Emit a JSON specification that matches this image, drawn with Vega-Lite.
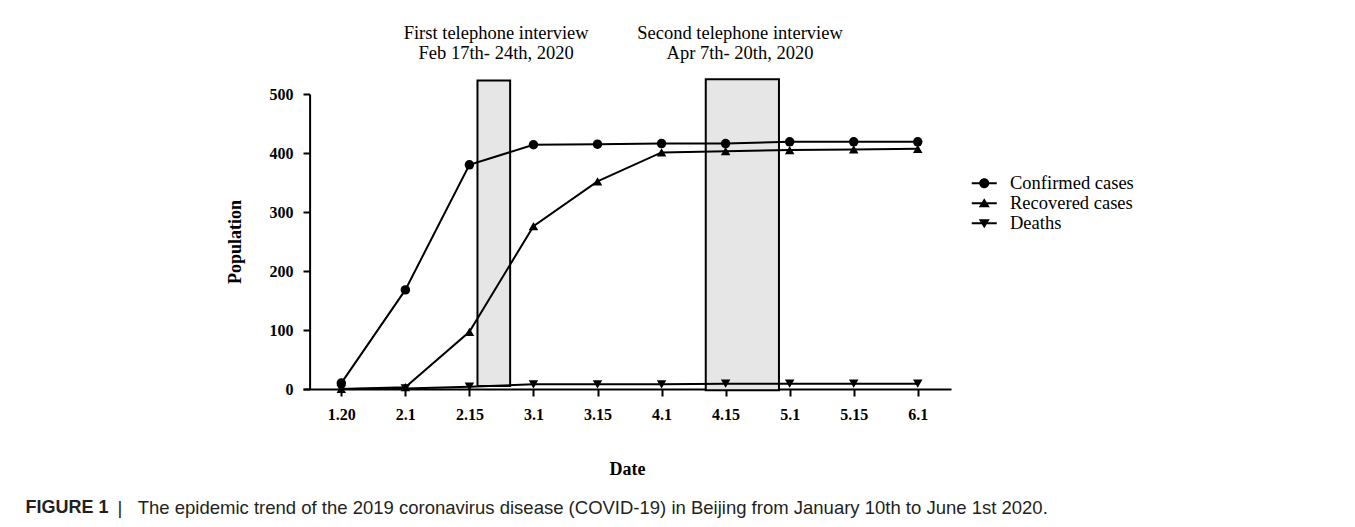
{
  "$schema": "https://vega.github.io/schema/vega-lite/v6.json",
  "autosize": {"type": "none"},
  "width": 648,
  "height": 295,
  "padding": {"left": 303, "top": 94, "right": 404, "bottom": 138},
  "background": "white",
  "config": {
    "view": {"stroke": null},
    "axis": {
      "domainColor": "black", "domainWidth": 2,
      "tickColor": "black", "tickWidth": 2, "tickSize": 7,
      "labelFont": "Liberation Serif", "labelFontWeight": "bold", "labelFontSize": 16, "labelColor": "black",
      "titleFont": "Liberation Serif", "titleFontWeight": "bold", "titleFontSize": 18, "titleColor": "black",
      "grid": false, "labelFlush": false, "labelOverlap": false, "labelBound": false
    },
    "axisY": {
      "offset": -6.6, "tickSize": 6.6, "labelPadding": 10,
      "titleX": -74, "titleY": 147.5, "titleAngle": -90, "titleAlign": "center", "titleBaseline": "middle"
    }
  },
  "datasets": {
    "periods": [
      {"period": "First telephone interview", "start": 2.126, "end": 2.636, "low": 5, "high": 523, "mid": 2.418, "label": ["First telephone interview", "Feb 17th- 24th, 2020"]},
      {"period": "Second telephone interview", "start": 5.69, "end": 6.833, "low": -2, "high": 525, "mid": 6.225, "label": ["Second telephone interview", "Apr 7th- 20th, 2020"]}
    ],
    "series": [
      {"idx": 0, "date": "1.20", "series": "Confirmed cases", "value": 10},
      {"idx": 1, "date": "2.1", "series": "Confirmed cases", "value": 168},
      {"idx": 2, "date": "2.15", "series": "Confirmed cases", "value": 380},
      {"idx": 3, "date": "3.1", "series": "Confirmed cases", "value": 414},
      {"idx": 4, "date": "3.15", "series": "Confirmed cases", "value": 415},
      {"idx": 5, "date": "4.1", "series": "Confirmed cases", "value": 416},
      {"idx": 6, "date": "4.15", "series": "Confirmed cases", "value": 416},
      {"idx": 7, "date": "5.1", "series": "Confirmed cases", "value": 419},
      {"idx": 8, "date": "5.15", "series": "Confirmed cases", "value": 419},
      {"idx": 9, "date": "6.1", "series": "Confirmed cases", "value": 419},
      {"idx": 0, "date": "1.20", "series": "Recovered cases", "value": 0},
      {"idx": 1, "date": "2.1", "series": "Recovered cases", "value": 3},
      {"idx": 2, "date": "2.15", "series": "Recovered cases", "value": 97},
      {"idx": 3, "date": "3.1", "series": "Recovered cases", "value": 276},
      {"idx": 4, "date": "3.15", "series": "Recovered cases", "value": 352},
      {"idx": 5, "date": "4.1", "series": "Recovered cases", "value": 401},
      {"idx": 6, "date": "4.15", "series": "Recovered cases", "value": 403},
      {"idx": 7, "date": "5.1", "series": "Recovered cases", "value": 405},
      {"idx": 8, "date": "5.15", "series": "Recovered cases", "value": 406},
      {"idx": 9, "date": "6.1", "series": "Recovered cases", "value": 407},
      {"idx": 0, "date": "1.20", "series": "Deaths", "value": 0},
      {"idx": 1, "date": "2.1", "series": "Deaths", "value": 1},
      {"idx": 2, "date": "2.15", "series": "Deaths", "value": 4},
      {"idx": 3, "date": "3.1", "series": "Deaths", "value": 8},
      {"idx": 4, "date": "3.15", "series": "Deaths", "value": 8},
      {"idx": 5, "date": "4.1", "series": "Deaths", "value": 8},
      {"idx": 6, "date": "4.15", "series": "Deaths", "value": 9},
      {"idx": 7, "date": "5.1", "series": "Deaths", "value": 9},
      {"idx": 8, "date": "5.15", "series": "Deaths", "value": 9},
      {"idx": 9, "date": "6.1", "series": "Deaths", "value": 9}
    ]
  },
  "layer": [
    {
      "data": {"name": "periods"},
      "mark": {"type": "rect", "fill": "#e6e6e6", "stroke": "black", "strokeWidth": 2},
      "encoding": {
        "x": {"field": "start", "type": "quantitative",
          "scale": {"domain": [-0.598, 9.519], "nice": false, "zero": false},
          "axis": {
            "orient": "bottom",
            "title": "Date", "values": [0, 1, 2, 3, 4, 5, 6, 7, 8, 9],
            "labelExpr": "['1.20','2.1','2.15','3.1','3.15','4.1','4.15','5.1','5.15','6.1'][datum.value]",
            "labelPadding": 10, "tickSize": 7,
            "titleX": 324, "titleY": 80, "titleAlign": "center", "titleBaseline": "middle"
          }
        },
        "x2": {"field": "end"},
        "y": {"field": "low", "type": "quantitative", "title": "Population",
          "scale": {"domain": [0, 500], "nice": false, "zero": false},
          "axis": {"values": [0, 100, 200, 300, 400, 500]}},
        "y2": {"field": "high"}
      }
    },
    {
      "data": {"name": "series"},
      "mark": {"type": "line", "color": "black", "strokeWidth": 2},
      "encoding": {
        "x": {"field": "idx", "type": "quantitative",
          "scale": {"domain": [-0.598, 9.519], "nice": false, "zero": false},
          "axis": {
            "orient": "bottom",
            "title": "FIGURE 1", "domain": false, "ticks": false, "labels": false, "grid": false,
            "titleFont": "Liberation Sans", "titleFontWeight": "bold", "titleFontSize": 18, "titleColor": "#231f20",
            "titleX": -278, "titleY": 118, "titleAlign": "left", "titleBaseline": "middle"
          }
        },
        "y": {"field": "value", "type": "quantitative", "title": "Population", "scale": {"domain": [0, 500], "nice": false, "zero": false},
          "axis": {"values": [0, 100, 200, 300, 400, 500]}},
        "detail": {"field": "series"}
      }
    },
    {
      "data": {"name": "series"},
      "mark": {"type": "point", "filled": true, "color": "black", "size": 90, "opacity": 1},
      "encoding": {
        "x": {"field": "idx", "type": "quantitative",
          "scale": {"domain": [-0.598, 9.519], "nice": false, "zero": false},
          "axis": {
            "orient": "bottom",
            "title": "|\u00a0\u00a0\u00a0The epidemic trend of the 2019 coronavirus disease (COVID-19) in Beijing from January 10th to June 1st 2020.",
            "domain": false, "ticks": false, "labels": false, "grid": false,
            "titleFont": "Liberation Sans", "titleFontWeight": "normal", "titleFontSize": 18.5, "titleColor": "#231f20",
            "titleX": -186, "titleY": 118, "titleAlign": "left", "titleBaseline": "middle"
          }
        },
        "y": {"field": "value", "type": "quantitative", "title": "Population", "scale": {"domain": [0, 500], "nice": false, "zero": false},
          "axis": {"values": [0, 100, 200, 300, 400, 500]}},
        "shape": {"field": "series", "type": "nominal",
          "scale": {"domain": ["Confirmed cases", "Recovered cases", "Deaths"], "range": ["circle", "triangle-up", "triangle-down"]},
          "legend": null
        }
      }
    },
    {
      "data": {"name": "series"},
      "mark": {"type": "point", "filled": true, "color": "black", "size": 100, "opacity": 0},
      "encoding": {
        "x": {"field": "idx", "type": "quantitative",
          "scale": {"domain": [-0.598, 9.519], "nice": false, "zero": false}, "axis": null},
        "y": {"field": "value", "type": "quantitative", "title": "Population", "scale": {"domain": [0, 500], "nice": false, "zero": false},
          "axis": {"values": [0, 100, 200, 300, 400, 500]}},
        "shape": {"field": "series", "type": "nominal",
          "scale": {"domain": ["Confirmed cases", "Recovered cases", "Deaths"],
            "range": [
              "M-2.5,-0.2H2.5V0.2H-2.5Z M1,0A1,1,0,1,1,-1,0A1,1,0,1,1,1,0Z",
              "M-2.5,-0.2H2.5V0.2H-2.5Z M0,-1L1.1,0.8L-1.1,0.8Z",
              "M-2.5,-0.2H2.5V0.2H-2.5Z M0,1L-1.1,-0.8L1.1,-0.8Z"
            ]},
          "legend": {
            "title": null, "orient": "none", "legendX": 672, "legendY": 80, "padding": 0,
            "labelFont": "Liberation Serif", "labelFontSize": 18.5, "labelColor": "black", "labelOffset": 16.5,
            "rowPadding": 1, "symbolSize": 100, "symbolOpacity": 1,
            "symbolFillColor": "black", "symbolStrokeColor": "black", "symbolStrokeWidth": 0
          }
        }
      }
    },
    {
      "data": {"name": "periods"},
      "mark": {"type": "text", "font": "Liberation Serif", "fontSize": 18.5, "align": "center", "baseline": "middle", "lineHeight": 20, "color": "black"},
      "encoding": {
        "x": {"field": "mid", "type": "quantitative", "scale": {"domain": [-0.598, 9.519], "nice": false, "zero": false}, "axis": null},
        "y": {"datum": 603, "type": "quantitative", "title": "Population", "scale": {"domain": [0, 500], "nice": false, "zero": false},
          "axis": {"values": [0, 100, 200, 300, 400, 500]}},
        "text": {"field": "label"}
      }
    }
  ],
  "resolve": {"axis": {"x": "independent"}, "scale": {"shape": "independent"}}
}
